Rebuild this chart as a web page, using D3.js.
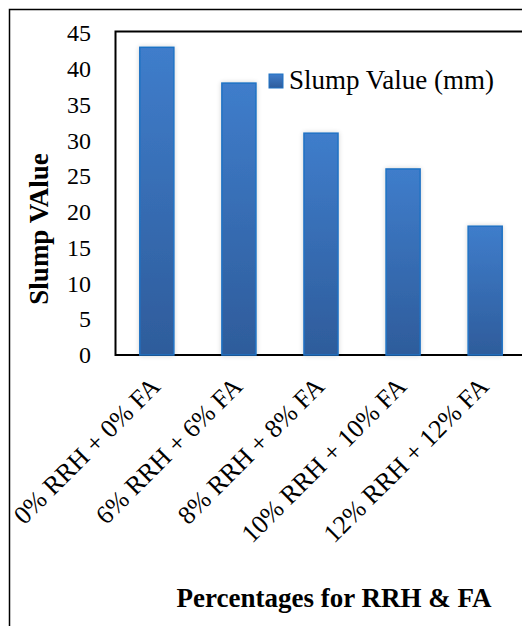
<!DOCTYPE html>
<html>
<head>
<meta charset="utf-8">
<script src="https://cdn.jsdelivr.net/npm/d3@7"></script>
<style>
  body { margin: 0; background: #fff; }
  svg { display: block; }
  text { font-family: "Liberation Serif", "Times New Roman", serif; fill: #000; }
</style>
</head>
<body>
<svg width="522" height="626"></svg>
<script>
'use strict';

// data
var categories = ["0% RRH + 0% FA", "6% RRH + 6% FA", "8% RRH + 8% FA", "10% RRH + 10% FA", "12% RRH + 12% FA"];
var slump = [43, 38, 31, 26, 18];
var yTicks = [0, 5, 10, 15, 20, 25, 30, 35, 40, 45];
var seriesName = "Slump Value (mm)";

var svg = d3.select("svg");

// plot area (it runs off the right edge, as in the original)
var margin = {top: 33, left: 116},
    width = 410,
    height = 322;

var x = d3.scaleBand().domain(categories).range([margin.left, margin.left + width]).paddingInner(0.585).paddingOuter(0.29);
var y = d3.scaleLinear().domain([0, 45]).range([margin.top + height, margin.top]);

// gradient for the bars
var defs = svg.append("defs");
var grad = defs.append("linearGradient")
  .attr("id", "barGrad")
  .attr("x1", 0).attr("y1", 0).attr("x2", 0).attr("y2", 1);
grad.append("stop").attr("offset", "0%").attr("stop-color", "#3f7dcb");
grad.append("stop").attr("offset", "100%").attr("stop-color", "#2e5c9b");

var shadow = defs.append("filter").attr("id", "shadow")
  .attr("x", "-30%").attr("y", "-10%").attr("width", "160%").attr("height", "120%");
shadow.append("feGaussianBlur").attr("in", "SourceAlpha").attr("stdDeviation", 2.5);
shadow.append("feComponentTransfer").append("feFuncA").attr("type", "linear").attr("slope", 0.18);
var merge = shadow.append("feMerge");
merge.append("feMergeNode");
merge.append("feMergeNode").attr("in", "SourceGraphic");

// outer frame
svg.append("path")
  .attr("d", "M9.5,626 L9.5,9.5 L522,9.5")
  .attr("fill", "none")
  .attr("stroke", "#000")
  .attr("stroke-width", 1.5);

// plot frame: top, left, bottom
svg.append("path")
  .attr("d", "M522," + (y(45) - 1.5) + " L" + (margin.left - 0.5) + "," + (y(45) - 1.5) +
             " L" + (margin.left - 0.5) + "," + y(0) + " L522," + y(0))
  .attr("fill", "none")
  .attr("stroke", "#000")
  .attr("stroke-width", 2);

// bars
svg.selectAll(".bar")
  .data(slump)
  .enter()
  .append("rect")
  .attr("class", "bar")
  .attr("x", function(d, i) { return x(categories[i]); })
  .attr("y", function(d) { return y(d); })
  .attr("width", x.bandwidth())
  .attr("height", function(d) { return y(0) - y(d); })
  .attr("fill", "url(#barGrad)")
  .attr("stroke", "#1f72c4")
  .attr("stroke-width", 1.5)
  .attr("filter", "url(#shadow)");

// y axis labels
var yAxis = d3.axisLeft(y).tickValues(yTicks).tickSize(0).tickPadding(25);
var gy = svg.append("g")
  .attr("transform", "translate(" + margin.left + ",0)")
  .call(yAxis);
gy.select(".domain").remove();
gy.selectAll("text")
  .style("font-family", "'Liberation Serif', serif")
  .style("font-size", "24px")
  .attr("fill", "#000");

// x axis labels, rotated
svg.selectAll(".xlab")
  .data(categories)
  .enter()
  .append("text")
  .attr("class", "xlab")
  .attr("text-anchor", "end")
  .attr("font-size", "26px")
  .attr("transform", function(d) {
    return "translate(" + (x(d) + x.bandwidth() / 2 + 5) + "," + (y(0) + 33) + ") rotate(-45)";
  })
  .text(function(d) { return d; });

// axis titles
svg.append("text")
  .attr("transform", "translate(48," + 229 + ") rotate(-90)")
  .attr("text-anchor", "middle")
  .attr("font-size", "27px")
  .attr("font-weight", "bold")
  .text("Slump VAlue");

svg.append("text")
  .attr("x", 334)
  .attr("y", 607)
  .attr("text-anchor", "middle")
  .attr("font-size", "27px")
  .attr("font-weight", "bold")
  .text("Percentages for RRH & FA");

// legend
var legend = svg.append("g").attr("transform", "translate(269,74)");
legend.append("rect")
  .attr("width", 14)
  .attr("height", 14)
  .attr("fill", "url(#barGrad)")
  .attr("stroke", "#1f72c4")
  .attr("stroke-width", 1);
legend.append("text")
  .attr("x", 20)
  .attr("y", 15)
  .attr("font-size", "27px")
  .text(seriesName);
</script>
</body>
</html>
